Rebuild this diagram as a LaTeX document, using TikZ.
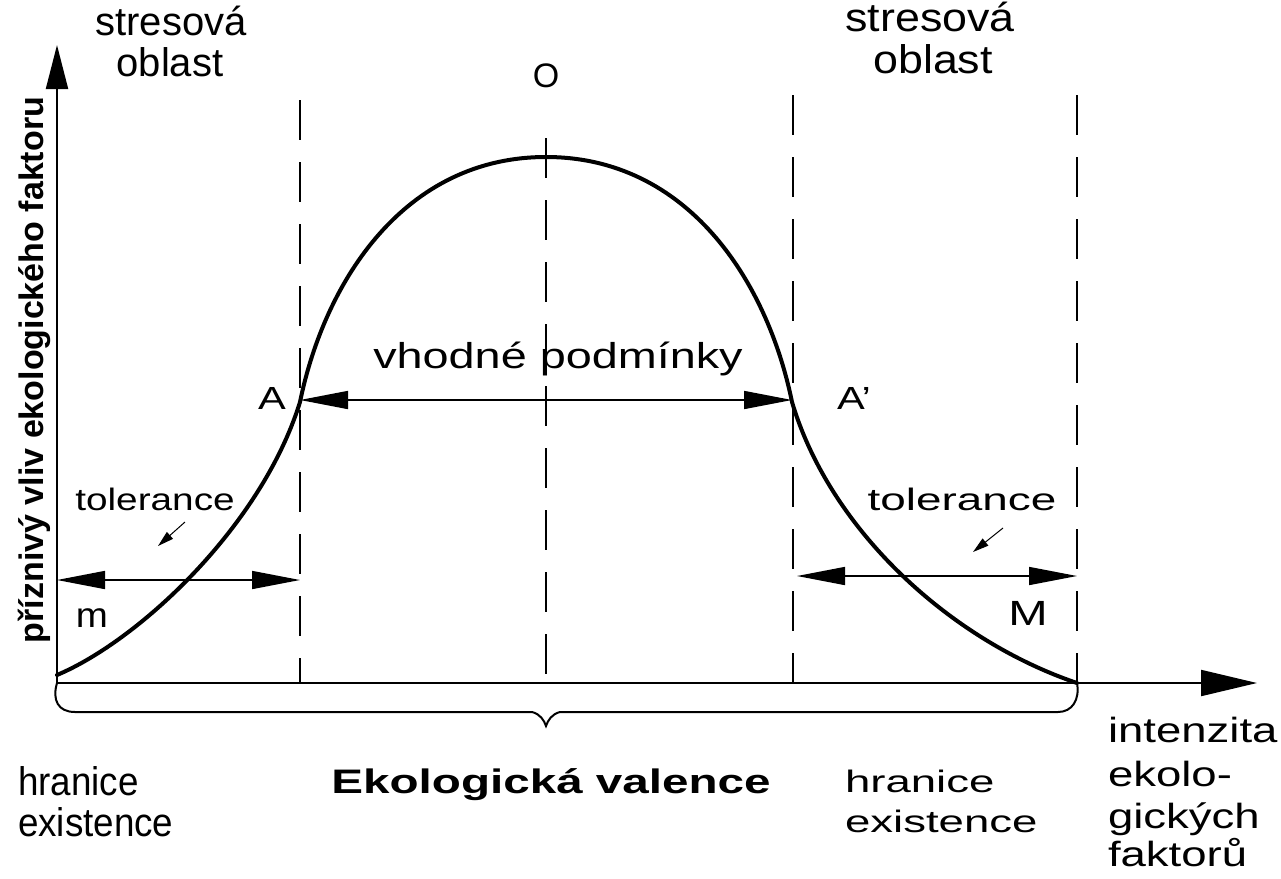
\documentclass[tikz,border=0pt]{standalone}
\usepackage{fontspec}
\setmainfont{Liberation Sans}
\usetikzlibrary{arrows.meta}
\newcommand\myfs[1]{\fontsize{#1}{#1}\selectfont}
\begin{document}
\begin{tikzpicture}[x=1pt,y=-1pt,
  txt/.style={inner sep=0pt, outer sep=0pt},
  axisline/.style={line width=2pt, -{Triangle[length=56pt,width=26pt]}},
  yaxisline/.style={line width=2pt, -{Triangle[length=44pt,width=22pt]}},
  dashln/.style={line width=2pt, dash pattern=on 40pt off 22pt},
  curveln/.style={line width=4pt, line cap=round},
  dimarrow/.style={line width=1.6pt, {Triangle[length=48pt,width=18pt]}-{Triangle[length=48pt,width=18pt]}},
  pointer/.style={line width=1pt, -{Triangle[length=16pt,width=9pt]}},
  braceln/.style={line width=2pt},
]
\useasboundingbox (0,0) rectangle (1281,878);
% key points
\coordinate (O) at (57,683);
\coordinate (Ytip) at (57,45);
\coordinate (Xtip) at (1257,683);
\coordinate (S) at (57,675);
\coordinate (A) at (300,402);
\coordinate (P) at (546,157);
\coordinate (Ap) at (792,402);
\coordinate (E) at (1077,683);
% dashed verticals
\coordinate (d1t) at (300,100); \coordinate (d1b) at (300,683);
\coordinate (d2t) at (546,138); \coordinate (d2b) at (546,683);
\coordinate (d3t) at (793,95);  \coordinate (d3b) at (793,683);
\coordinate (d4t) at (1077,95); \coordinate (d4b) at (1077,683);
\draw[dashln] (d1t) -- (d1b);
\draw[dashln] (d2t) -- (d2b);
\draw[dashln] (d3t) -- (d3b);
\draw[dashln] (d4t) -- (d4b);
% axes
\draw[axisline] (O) -- (Xtip);
\draw[yaxisline] (O) -- (Ytip);
% curve
\draw[curveln] (S) .. controls (140,640) and (262,525) .. (A)
  .. controls (325,280) and (405,157) .. (P)
  .. controls (687,157) and (767,280) .. (Ap)
  .. controls (830,530) and (950,640) .. (E);
% brace
\coordinate (b1) at (75,712); \coordinate (b2) at (532,712);
\coordinate (bt) at (546,726); \coordinate (b3) at (560,712);
\coordinate (b4) at (1058,712);
\draw[braceln] (O) .. controls (52,700) and (58,712) .. (b1) -- (b2)
  .. controls (540,714) and (544,720) .. (bt)
  .. controls (548,720) and (552,714) .. (b3) -- (b4)
  .. controls (1072,712) and (1080,700) .. (E);
% dimension arrows
\coordinate (vL) at (300,400); \coordinate (vR) at (792,400);
\draw[dimarrow] (vL) -- (vR);
\coordinate (tL1) at (57,580); \coordinate (tL2) at (300,580);
\draw[dimarrow] (tL1) -- (tL2);
\coordinate (tR1) at (797,576); \coordinate (tR2) at (1077,576);
\draw[dimarrow] (tR1) -- (tR2);
% pointers
\coordinate (pL1) at (185,522); \coordinate (pL2) at (158,546);
\draw[pointer] (pL1) -- (pL2);
\coordinate (pR1) at (1003,528); \coordinate (pR2) at (973,552);
\draw[pointer] (pR1) -- (pR2);
% texts
\node[txt, anchor=base, font=\myfs{40}] (s1a) at (171,35) {stresová};
\node[txt, anchor=base, font=\myfs{40}] (s1b) at (170,76) {oblast};
\node[txt, anchor=base, font=\myfs{40}, xscale=1.12] (s2a) at (930,31) {stresová};
\node[txt, anchor=base, font=\myfs{40}, xscale=1.12] (s2b) at (933,73) {oblast};
\node[txt, font=\myfs{34}] (opt) at (546,76) {O};
\node[txt, rotate=90, font=\bfseries\myfs{34}] (ylab) at (34,370) {příznivý vliv ekologického faktoru};
\node[txt, anchor=base, font=\myfs{36}, xscale=1.3] (vh) at (558,368) {vhodné podmínky};
\node[txt, font=\myfs{32}, xscale=1.3] (lA) at (272,398) {A};
\node[txt, anchor=west, font=\myfs{32}, xscale=1.3] (lAp) at (837,398) {A’};
\node[txt, anchor=base, font=\myfs{31}, xscale=1.25] (tol1) at (155,510) {tolerance};
\node[txt, anchor=base, font=\myfs{31}, xscale=1.48] (tol2) at (962,510) {tolerance};
\node[txt, font=\myfs{35}, xscale=1.1] (lm) at (92,618) {m};
\node[txt, font=\myfs{35}, xscale=1.35] (lM) at (1028,613) {M};
\node[txt, anchor=base west, font=\myfs{40}, xscale=0.92] (h1a) at (18,795) {hranice};
\node[txt, anchor=base west, font=\myfs{40}, xscale=0.92] (h1b) at (18,836) {existence};
\node[txt, anchor=base west, font=\myfs{31}, xscale=1.47] (h2a) at (845,792) {hranice};
\node[txt, anchor=base west, font=\myfs{31}, xscale=1.47] (h2b) at (845,832) {existence};
\node[txt, anchor=base, font=\bfseries\myfs{34}, xscale=1.4] (ev) at (551,793) {Ekologická valence};
\node[txt, anchor=base west, font=\myfs{35}, xscale=1.3] (i1) at (1108,742) {intenzita};
\node[txt, anchor=base west, font=\myfs{35}, xscale=1.3] (i2) at (1108,786) {ekolo-};
\node[txt, anchor=base west, font=\myfs{35}, xscale=1.3] (i3) at (1108,828) {gických};
\node[txt, anchor=base west, font=\myfs{35}, xscale=1.3] (i4) at (1108,866) {faktorů};
\end{tikzpicture}
\end{document}
